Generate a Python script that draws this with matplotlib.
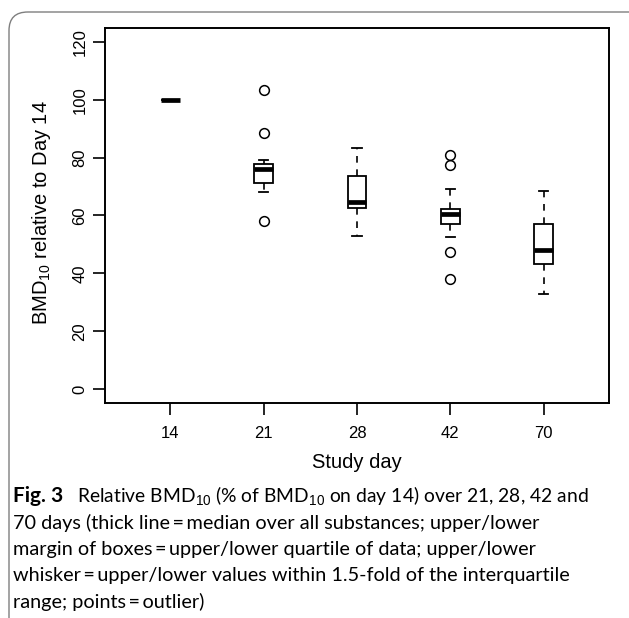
import matplotlib
matplotlib.use('Agg')
import matplotlib.pyplot as plt
from matplotlib.patches import FancyBboxPatch

# ---- data ----
days = ['14', '21', '28', '42', '70']
q1 = [100, 71.3, 62.6, 57.1, 43.3]
med = [100, 76.0, 64.8, 60.6, 48.1]
q3 = [100, 77.9, 73.7, 62.4, 57.2]
whislo = [100, 68.1, 52.9, 52.6, 33.0]
whishi = [100, 79.1, 83.2, 69.0, 68.4]
outliers = [[], [103.5, 88.4, 58.0], [], [80.9, 77.4, 47.3, 37.9], []]
yticks = [0, 20, 40, 60, 80, 100, 120]

caption_lines = [
    "Relative BMD$_{10}$ (% of BMD$_{10}$ on day 14) over 21, 28, 42 and",
    "70 days (thick line\u2009=\u2009median over all substances; upper/lower",
    "margin of boxes\u2009=\u2009upper/lower quartile of data; upper/lower",
    "whisker\u2009=\u2009upper/lower values within 1.5-fold of the interquartile",
    "range; points\u2009=\u2009outlier)",
]

plt.rcParams['font.family'] = ['Liberation Sans', 'DejaVu Sans']
plt.rcParams['mathtext.fontset'] = 'custom'
plt.rcParams['mathtext.rm'] = 'Liberation Sans'
plt.rcParams['mathtext.it'] = 'Liberation Sans:italic'
plt.rcParams['mathtext.bf'] = 'Liberation Sans:bold'

W, H = 629, 618
fig = plt.figure(figsize=(W / 100, H / 100), dpi=100)

def fx(x):
    return x / W

def fy(y):
    return 1 - y / H

# outer rounded frame
frame = FancyBboxPatch((fx(9), fy(640)), fx(680), (640 - 12) / H,
                       boxstyle="round,pad=0,rounding_size=0.03",
                       transform=fig.transFigure, facecolor='none',
                       edgecolor='#7f7f7f', linewidth=1.0, clip_on=False)
fig.patches.append(frame)

ax = fig.add_axes([fx(105), fy(403), (609 - 105) / W, (403 - 28) / H])

stats = []
for i in range(len(days)):
    stats.append(dict(med=med[i], q1=q1[i], q3=q3[i], whislo=whislo[i],
                      whishi=whishi[i], fliers=outliers[i], label=days[i]))

ax.bxp(stats, positions=range(1, len(days) + 1), widths=0.2, capwidths=0.1,
       patch_artist=True,
       boxprops=dict(facecolor='white', edgecolor='black', linewidth=1.3),
       medianprops=dict(color='black', linewidth=3.4, solid_capstyle='butt'),
       whiskerprops=dict(color='black', linewidth=1.2, linestyle=(0, (4, 4))),
       capprops=dict(color='black', linewidth=1.3),
       flierprops=dict(marker='o', markerfacecolor='none', markeredgecolor='black',
                       markersize=7, markeredgewidth=1.1))

ax.set_xlim(0.3, 5.7)
ax.set_ylim(-4.8, 124.8)
ax.set_xticks(range(1, len(days) + 1), labels=days)
ax.set_yticks(yticks, labels=[str(v) for v in yticks], rotation=90, va='center')
ax.tick_params(axis='both', length=8.6, width=1.2, labelsize=12, color='black')
ax.tick_params(axis='x', pad=8)
ax.tick_params(axis='y', pad=4)
for sp in ax.spines.values():
    sp.set_linewidth(1.4)

fig.text(fx(42), fy(213), 'BMD$_{10}$ relative to Day 14', rotation=90,
         ha='center', va='center', fontsize=14.5)
fig.text(fx(357), fy(463), 'Study day', ha='center', va='center', fontsize=14.5)

# caption
cap_font = ['Lato', 'Open Sans', 'DejaVu Sans']
renderer = fig.canvas.get_renderer()

def width_at10(s, **kw):
    t = fig.text(0, 0, s, family=cap_font, fontsize=10, **kw)
    w = t.get_window_extent(renderer).width
    t.remove()
    return w

x0 = 13
ends = [577, 543, 540, 567, 220]
fits = [10 * (e - x0) / width_at10(l) for l, e in zip(caption_lines[1:4], ends[1:4])]
common = sum(fits) / len(fits)
bold_fs = common * 1.05
fig_w = width_at10('Fig. 3', fontweight='bold') * bold_fs / 10
start1 = x0 + fig_w + 14
fs1 = 10 * (590 - start1) / width_at10(caption_lines[0])

baselines = [502, 528.5, 555, 581.5, 608]
fig.text(fx(x0), fy(baselines[0]), 'Fig. 3', family=cap_font, fontsize=bold_fs,
         fontweight='bold', va='baseline', ha='left')
fig.text(fx(start1), fy(baselines[0]), caption_lines[0], family=cap_font,
         fontsize=fs1, va='baseline', ha='left')
for line, b in zip(caption_lines[1:], baselines[1:]):
    fig.text(fx(x0), fy(b), line, family=cap_font, fontsize=common,
             va='baseline', ha='left')

fig.savefig('out.png', dpi=100)
